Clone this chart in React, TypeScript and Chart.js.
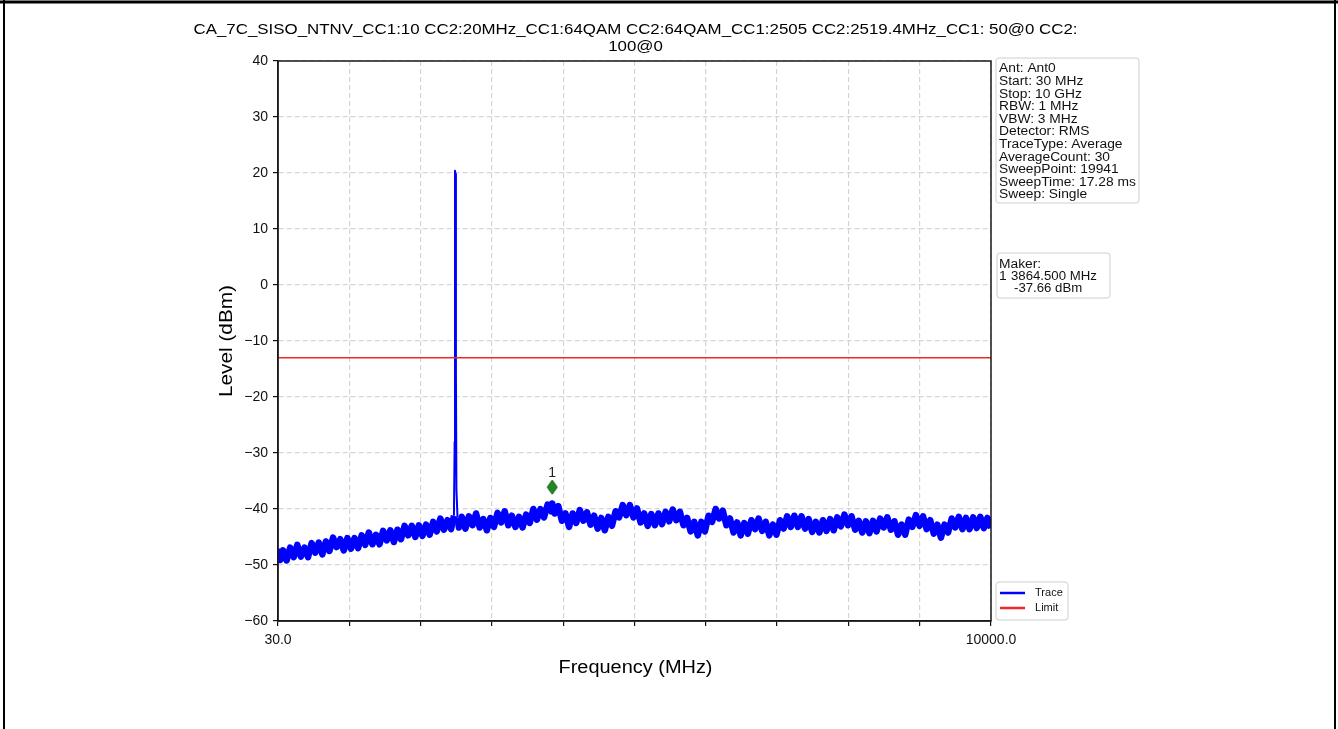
import React, { useEffect, useRef } from "react";
import { Chart, registerables } from "chart.js";

Chart.register(...registerables);

const TITLE_LINES = [
  "CA_7C_SISO_NTNV_CC1:10 CC2:20MHz_CC1:64QAM CC2:64QAM_CC1:2505 CC2:2519.4MHz_CC1: 50@0 CC2:",
  "100@0",
];
const X_LABEL = "Frequency (MHz)";
const Y_LABEL = "Level (dBm)";

const FREQS_MHZ = [
  30, 60, 100, 150, 200, 250, 300, 350, 400, 450,
  500, 550, 600, 650, 700, 750, 800, 850, 900, 950,
  1000, 1050, 1100, 1150, 1200, 1250, 1300, 1350, 1400, 1450,
  1500, 1550, 1600, 1650, 1700, 1750, 1800, 1850, 1900, 1950,
  2000, 2050, 2100, 2150, 2200, 2250, 2300, 2350, 2400, 2450,
  2490, 2500, 2505, 2512, 2518, 2525, 2540, 2560, 2600, 2650,
  2700, 2750, 2800, 2850, 2900, 2950, 3000, 3050, 3100, 3150,
  3200, 3250, 3300, 3350, 3400, 3450, 3500, 3550, 3600, 3650,
  3700, 3750, 3800, 3850, 3864.5, 3900, 3950, 4000, 4050, 4100,
  4150, 4200, 4250, 4300, 4350, 4400, 4450, 4500, 4550, 4600,
  4650, 4700, 4750, 4800, 4850, 4900, 4950, 5000, 5050, 5100,
  5150, 5200, 5250, 5300, 5350, 5400, 5450, 5500, 5550, 5600,
  5650, 5700, 5750, 5800, 5850, 5900, 5950, 6000, 6050, 6100,
  6150, 6200, 6250, 6300, 6350, 6400, 6450, 6500, 6550, 6600,
  6650, 6700, 6750, 6800, 6850, 6900, 6950, 7000, 7050, 7100,
  7150, 7200, 7250, 7300, 7350, 7400, 7450, 7500, 7550, 7600,
  7650, 7700, 7750, 7800, 7850, 7900, 7950, 8000, 8050, 8100,
  8150, 8200, 8250, 8300, 8350, 8400, 8450, 8500, 8550, 8600,
  8650, 8700, 8750, 8800, 8850, 8900, 8950, 9000, 9050, 9100,
  9150, 9200, 9250, 9300, 9350, 9400, 9450, 9500, 9550, 9600,
  9650, 9700, 9750, 9800, 9850, 9900, 9950, 10000,
];

const TRACE_DBM = [
  -47.1, -49.1, -47.4, -49.2, -46.9, -48.6, -46.4, -48.5, -46.9, -48.6,
  -46.1, -47.8, -46.0, -48.1, -45.8, -47.5, -45.1, -46.8, -45.4, -47.4,
  -45.2, -47.1, -45.2, -47.0, -44.7, -46.4, -44.2, -46.3, -44.6, -46.3,
  -43.9, -45.6, -43.8, -45.9, -43.7, -45.4, -43.0, -44.7, -43.0, -45.0,
  -42.9, -44.8, -42.8, -44.6, -42.3, -44.0, -41.7, -43.7, -42.0, -43.6,
  -41.2, -28.0, 20.4, 19.8, -16.0, -36.5, -41.5, -43.3, -41.4, -43.5,
  -41.3, -42.9, -40.8, -43.3, -41.8, -43.8, -41.6, -43.2, -40.7, -42.4,
  -40.4, -42.9, -41.2, -43.2, -41.4, -43.3, -41.0, -42.5, -40.0, -41.9,
  -40.0, -41.5, -39.2, -40.4, -39.0, -40.8, -39.5, -42.1, -40.8, -43.2,
  -40.8, -42.5, -40.2, -42.1, -40.6, -42.8, -41.2, -43.5, -41.6, -43.8,
  -41.4, -43.0, -40.4, -41.5, -39.3, -41.1, -39.3, -41.5, -39.9, -42.4,
  -40.8, -43.0, -40.9, -42.9, -40.8, -42.7, -40.5, -42.2, -40.1, -42.0,
  -40.5, -42.9, -41.6, -44.0, -42.3, -44.7, -42.3, -44.0, -41.2, -42.3,
  -40.0, -41.7, -40.3, -42.9, -41.7, -44.2, -42.4, -44.7, -42.5, -44.4,
  -42.0, -43.6, -41.7, -43.9, -42.3, -44.7, -42.8, -44.6, -42.0, -43.5,
  -41.3, -43.2, -41.2, -43.2, -41.3, -43.5, -41.8, -44.1, -42.3, -44.2,
  -42.0, -43.9, -41.8, -43.8, -41.5, -43.1, -41.0, -42.9, -41.3, -43.7,
  -42.1, -44.2, -42.2, -44.3, -42.1, -44.0, -41.7, -43.3, -41.5, -43.7,
  -42.2, -44.6, -42.8, -44.6, -41.9, -43.2, -41.1, -43.0, -41.3, -43.6,
  -42.0, -44.4, -42.8, -45.1, -42.8, -44.2, -41.7, -43.3, -41.4, -43.6,
  -41.6, -43.6, -41.5, -43.4, -41.4, -43.4, -41.6, -43.4,
];

const LIMIT_FREQS_MHZ = [30, 10000];
const LIMIT_DBM = [-13, -13];

const MARKER_FREQS_MHZ = [3864.5];
const MARKER_DBM = [-36.1];
const MARKER_LABELS = ["1"];

const X_TICKS_MHZ = [30, 1027, 2024, 3021, 4018, 5015, 6012, 7009, 8006, 9003, 10000];
const X_TICK_LABELS = ["30.0", "", "", "", "", "", "", "", "", "", "10000.0"];

const INFO_LINES = [
  "Ant: Ant0",
  "Start: 30 MHz",
  "Stop: 10 GHz",
  "RBW: 1 MHz",
  "VBW: 3 MHz",
  "Detector: RMS",
  "TraceType: Average",
  "AverageCount: 30",
  "SweepPoint: 19941",
  "SweepTime: 17.28 ms",
  "Sweep: Single",
];
const MARKER_INFO_TITLE = "Maker:";
const MARKER_INFO_INDEX = "1";
const MARKER_INFO_FREQ = "3864.500 MHz";
const MARKER_INFO_LEVEL = "-37.66 dBm";

const FONT = "'Liberation Sans', Arial, Helvetica, sans-serif";

function drawText(
  ctx: CanvasRenderingContext2D,
  text: string,
  x: number,
  y: number,
  size: number,
  sx: number,
  align: CanvasTextAlign,
  color = "#000"
) {
  ctx.save();
  ctx.font = `${size}px ${FONT}`;
  ctx.fillStyle = color;
  ctx.textBaseline = "middle";
  ctx.textAlign = align;
  ctx.translate(x, y);
  ctx.scale(sx, 1);
  ctx.fillText(text, 0, 0);
  ctx.restore();
}

function roundRect(ctx: CanvasRenderingContext2D, x: number, y: number, w: number, h: number, r: number) {
  ctx.beginPath();
  ctx.moveTo(x + r, y);
  ctx.lineTo(x + w - r, y);
  ctx.quadraticCurveTo(x + w, y, x + w, y + r);
  ctx.lineTo(x + w, y + h - r);
  ctx.quadraticCurveTo(x + w, y + h, x + w - r, y + h);
  ctx.lineTo(x + r, y + h);
  ctx.quadraticCurveTo(x, y + h, x, y + h - r);
  ctx.lineTo(x, y + r);
  ctx.quadraticCurveTo(x, y, x + r, y);
  ctx.closePath();
}

const decorPlugin = {
  id: "decor",
  beforeDraw(chart: any) {
    const ctx: CanvasRenderingContext2D = chart.ctx;
    ctx.save();
    ctx.fillStyle = "#fff";
    ctx.fillRect(0, 0, chart.width, chart.height);
    ctx.restore();
  },
  afterDraw(chart: any) {
    const ctx: CanvasRenderingContext2D = chart.ctx;
    const a = chart.chartArea;
    const cx = (a.left + a.right) / 2;
    const cy = (a.top + a.bottom) / 2;

    // plot frame
    ctx.save();
    ctx.strokeStyle = "#1a1a1a";
    ctx.lineWidth = 1.5;
    ctx.strokeRect(a.left, a.top, a.right - a.left, a.bottom - a.top);
    ctx.restore();

    // title
    ctx.save();
    ctx.font = `15px ${FONT}`;
    const w1 = ctx.measureText(TITLE_LINES[0]).width;
    ctx.restore();
    const tsx = 884 / w1;
    drawText(ctx, TITLE_LINES[0], cx + 1, 30, 15, tsx, "center");
    drawText(ctx, TITLE_LINES[1], cx + 1, 47, 15, tsx, "center");

    // axis titles
    ctx.save();
    ctx.font = `18px ${FONT}`;
    const wx = ctx.measureText(X_LABEL).width;
    const wy = ctx.measureText(Y_LABEL).width;
    ctx.restore();
    drawText(ctx, X_LABEL, cx + 1, 668, 18, 154 / wx, "center");
    ctx.save();
    ctx.translate(227, cy);
    ctx.rotate(-Math.PI / 2);
    drawText(ctx, Y_LABEL, 0, 0, 18, 112 / wy, "center");
    ctx.restore();

    // marker label
    const xs = chart.scales.x;
    const ys = chart.scales.y;
    MARKER_LABELS.forEach((lab, i) => {
      const px = xs.getPixelForValue(MARKER_FREQS_MHZ[i]);
      const py = ys.getPixelForValue(MARKER_DBM[i]);
      drawText(ctx, lab, px, py - 14, 14, 1, "center", "#222");
    });

    // info box
    const boxStroke = "#cfcfcf";
    ctx.save();
    roundRect(ctx, 996, 58, 143, 145, 3);
    ctx.fillStyle = "#fff";
    ctx.fill();
    ctx.strokeStyle = boxStroke;
    ctx.lineWidth = 1;
    ctx.stroke();
    ctx.restore();
    INFO_LINES.forEach((t, i) => drawText(ctx, t, 999, 69 + i * 12.6, 12, 1.15, "left", "#111"));

    // marker info box
    ctx.save();
    roundRect(ctx, 997, 253, 113, 45, 3);
    ctx.fillStyle = "#fff";
    ctx.fill();
    ctx.strokeStyle = boxStroke;
    ctx.lineWidth = 1;
    ctx.stroke();
    ctx.restore();
    drawText(ctx, MARKER_INFO_TITLE, 999, 265, 12, 1.15, "left", "#111");
    drawText(ctx, MARKER_INFO_INDEX, 999, 277, 12, 1.15, "left", "#111");
    drawText(ctx, MARKER_INFO_FREQ, 1011, 277, 12, 1.1, "left", "#111");
    drawText(ctx, MARKER_INFO_LEVEL, 1014, 289, 12, 1.1, "left", "#111");

    // legend
    ctx.save();
    roundRect(ctx, 996, 582, 72, 38, 3);
    ctx.fillStyle = "#fff";
    ctx.fill();
    ctx.strokeStyle = boxStroke;
    ctx.lineWidth = 1;
    ctx.stroke();
    const legendItems = chart.data.datasets.filter((d: any) => d.label !== "Marker");
    legendItems.forEach((d: any, i: number) => {
      const y = 593 + i * 15;
      ctx.beginPath();
      ctx.strokeStyle = d.borderColor;
      ctx.lineWidth = 2.5;
      ctx.moveTo(1000, y);
      ctx.lineTo(1025, y);
      ctx.stroke();
      drawText(ctx, d.label, 1035, y, 10.5, 1.05, "left", "#111");
    });
    ctx.restore();

    // page border
    ctx.save();
    ctx.strokeStyle = "#000";
    ctx.lineWidth = 3;
    ctx.beginPath();
    ctx.moveTo(0, 2);
    ctx.lineTo(chart.width, 2);
    ctx.stroke();
    ctx.lineWidth = 2;
    ctx.beginPath();
    ctx.moveTo(4, 0);
    ctx.lineTo(4, chart.height);
    ctx.moveTo(1335, 0);
    ctx.lineTo(1335, chart.height);
    ctx.stroke();
    ctx.restore();
  },
};

export default function App() {
  const ref = useRef<HTMLCanvasElement>(null);

  useEffect(() => {
    const canvas = ref.current;
    if (!canvas) return;

    const diamond = document.createElement("canvas");
    diamond.width = 12;
    diamond.height = 16;
    const d = diamond.getContext("2d")!;
    d.beginPath();
    d.moveTo(6, 1);
    d.lineTo(11, 8);
    d.lineTo(6, 15);
    d.lineTo(1, 8);
    d.closePath();
    d.fillStyle = "#1f8a1f";
    d.fill();
    d.strokeStyle = "#0c5a0c";
    d.lineWidth = 1;
    d.stroke();

    const traceData = FREQS_MHZ.map((f, i) => ({ x: f, y: TRACE_DBM[i] }));
    const limitData = LIMIT_FREQS_MHZ.map((f, i) => ({ x: f, y: LIMIT_DBM[i] }));
    const markerData = MARKER_FREQS_MHZ.map((f, i) => ({ x: f, y: MARKER_DBM[i] }));

    const chart = new Chart(canvas, {
      type: "line",
      data: {
        datasets: [
          {
            label: "Trace",
            data: traceData,
            borderColor: "#0000ff",
            backgroundColor: "#0000ff",
            borderWidth: 6.5,
            borderJoinStyle: "round",
            pointRadius: 0,
            tension: 0,
            order: 2,
            segment: {
              borderWidth: (c: any) =>
                c.p0.parsed.y > -38 || c.p1.parsed.y > -38 ? 2 : undefined,
            },
          } as any,
          {
            label: "Limit",
            data: limitData,
            borderColor: "#f02828",
            backgroundColor: "#f02828",
            borderWidth: 1.6,
            pointRadius: 0,
            order: 1,
          },
          {
            label: "Marker",
            data: markerData,
            showLine: false,
            pointStyle: diamond as any,
            pointRadius: 6,
            order: 0,
          } as any,
        ],
      },
      options: {
        responsive: false,
        animation: false,
        events: [],
        layout: { padding: { left: 200, right: 347, top: 61, bottom: 78 } },
        plugins: {
          legend: { display: false },
          title: { display: false },
          tooltip: { enabled: false },
        },
        scales: {
          x: {
            type: "linear",
            min: 30,
            max: 10000,
            afterBuildTicks: (s: any) => {
              s.ticks = X_TICKS_MHZ.map((v) => ({ value: v }));
            },
            afterFit: (s: any) => {
              s.height = 30;
            },
            ticks: {
              autoSkip: false,
              maxRotation: 0,
              minRotation: 0,
              padding: 6,
              color: "#111",
              font: { size: 14, family: FONT },
              callback: (_v: any, i: number) => X_TICK_LABELS[i],
            },
            grid: {
              color: "#d6d6d6",
              lineWidth: 1.2,
              tickColor: "#111",
              tickLength: 5,
              tickWidth: 1.2,
            },
            border: { display: true, color: "#111", width: 1.5, dash: [5, 3] },
          },
          y: {
            type: "linear",
            min: -60,
            max: 40,
            afterFit: (s: any) => {
              s.width = 78;
            },
            ticks: {
              stepSize: 10,
              padding: 5,
              color: "#111",
              font: { size: 14, family: FONT },
              callback: (v: any) => (v < 0 ? "\u2212" + Math.abs(v) : String(v)),
            },
            grid: {
              color: "#d6d6d6",
              lineWidth: 1.2,
              tickColor: "#111",
              tickLength: 5,
              tickWidth: 1.2,
            },
            border: { display: true, color: "#111", width: 1.5, dash: [5, 3] },
          },
        },
      },
      plugins: [decorPlugin],
    });

    return () => chart.destroy();
  }, []);

  return (
    <canvas
      ref={ref}
      width={1338}
      height={729}
      style={{ position: "absolute", left: 0, top: 0, width: 1338, height: 729, display: "block" }}
    />
  );
}
